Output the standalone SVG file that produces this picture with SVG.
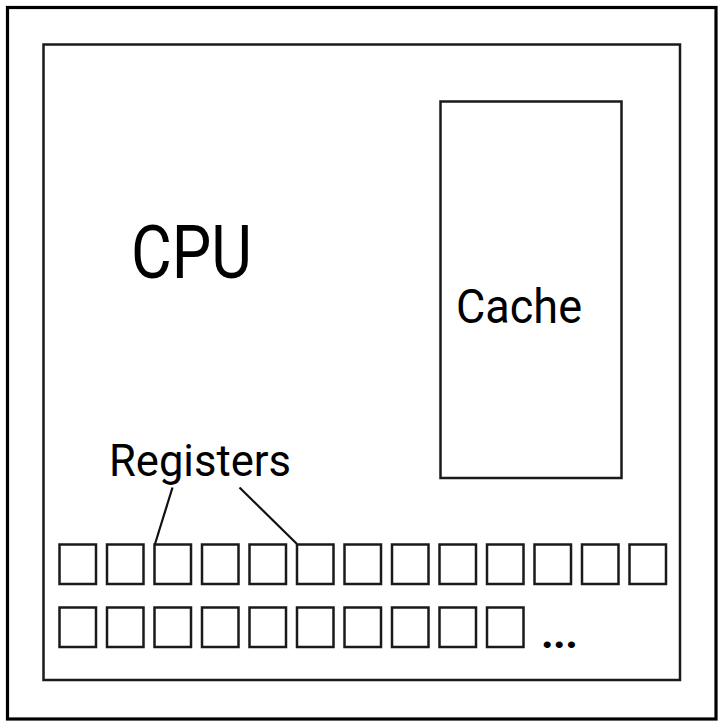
<svg xmlns="http://www.w3.org/2000/svg" width="728" height="727" viewBox="0 0 728 727">
<style>
.box{fill:#fff;stroke:#1a1a1a;stroke-width:2.5}
.reg{fill:#fff;stroke:#1a1a1a;stroke-width:2.5}
.lbl{font-family:Roboto,"Liberation Sans",sans-serif;fill:#000}
.conn{stroke:#111;stroke-width:2.2;fill:none}
</style>
<rect x="0" y="0" width="728" height="727" fill="#fff"/>
<g id="frame"><rect x="7.5" y="7.5" width="708.5" height="711.5" fill="#fff" stroke="#000" stroke-width="3.2"/></g>
<g id="cpu">
<rect class="box" x="43.5" y="44.5" width="636.5" height="635.5"/>
<text class="lbl" x="131" y="278" font-size="74" textLength="121" lengthAdjust="spacingAndGlyphs">CPU</text>
</g>
<g id="cache">
<rect class="box" x="440.5" y="101.5" width="181" height="376.5"/>
<text class="lbl" x="456" y="322.5" font-size="48" textLength="126" lengthAdjust="spacingAndGlyphs">Cache</text>
</g>
<g id="registers">
<text class="lbl" x="109" y="475.5" font-size="45" textLength="182" lengthAdjust="spacingAndGlyphs">Registers</text>
<g id="row1">
<rect class="reg" x="59.5" y="544.5" width="36.5" height="39.5"/>
<rect class="reg" x="107" y="544.5" width="36.5" height="39.5"/>
<rect class="reg" x="154.5" y="544.5" width="36.5" height="39.5"/>
<rect class="reg" x="202" y="544.5" width="36.5" height="39.5"/>
<rect class="reg" x="249.5" y="544.5" width="36.5" height="39.5"/>
<rect class="reg" x="297" y="544.5" width="36.5" height="39.5"/>
<rect class="reg" x="344.5" y="544.5" width="36.5" height="39.5"/>
<rect class="reg" x="392" y="544.5" width="36.5" height="39.5"/>
<rect class="reg" x="439.5" y="544.5" width="36.5" height="39.5"/>
<rect class="reg" x="487" y="544.5" width="36.5" height="39.5"/>
<rect class="reg" x="534.5" y="544.5" width="36.5" height="39.5"/>
<rect class="reg" x="582" y="544.5" width="36.5" height="39.5"/>
<rect class="reg" x="629.5" y="544.5" width="36.5" height="39.5"/>
</g>
<g id="row2">
<rect class="reg" x="59.5" y="607.5" width="36.5" height="39.5"/>
<rect class="reg" x="107" y="607.5" width="36.5" height="39.5"/>
<rect class="reg" x="154.5" y="607.5" width="36.5" height="39.5"/>
<rect class="reg" x="202" y="607.5" width="36.5" height="39.5"/>
<rect class="reg" x="249.5" y="607.5" width="36.5" height="39.5"/>
<rect class="reg" x="297" y="607.5" width="36.5" height="39.5"/>
<rect class="reg" x="344.5" y="607.5" width="36.5" height="39.5"/>
<rect class="reg" x="392" y="607.5" width="36.5" height="39.5"/>
<rect class="reg" x="439.5" y="607.5" width="36.5" height="39.5"/>
<rect class="reg" x="487" y="607.5" width="36.5" height="39.5"/>
<text class="lbl" x="541" y="647.5" font-size="44" font-weight="700" textLength="37" lengthAdjust="spacing">...</text>
</g>
</g>
<g id="connectors">
<line class="conn" x1="172.5" y1="487.5" x2="155" y2="544"/>
<line class="conn" x1="239.5" y1="487.5" x2="297" y2="544"/>
</g>
</svg>
